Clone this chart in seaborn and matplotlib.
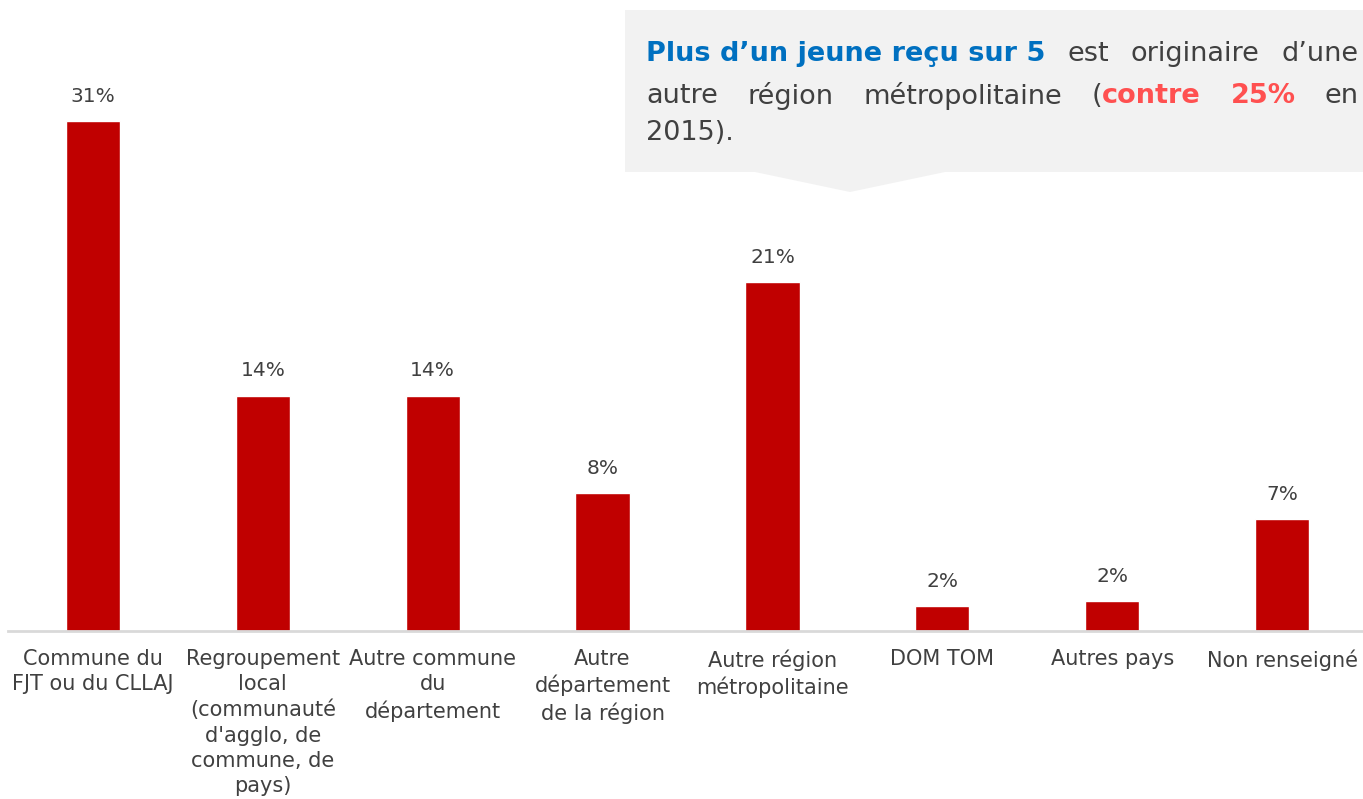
import seaborn as sns
import matplotlib.pyplot as plt
from matplotlib.patches import Polygon

categories = ["Commune du\nFJT ou du CLLAJ",
              "Regroupement\nlocal\n(communauté\nd'agglo, de\ncommune, de\npays)",
              "Autre commune\ndu\ndépartement",
              "Autre\ndépartement\nde la région",
              "Autre région\nmétropolitaine",
              "DOM TOM",
              "Autres pays",
              "Non renseigné"]
values = [31.0, 14.3, 14.3, 8.4, 21.2, 1.5, 1.8, 6.8]
value_labels = ["31%", "14%", "14%", "8%", "21%", "2%", "2%", "7%"]

W, H = 1363, 799
grey_txt = "#404040"
blue = "#0070C0"
red = "#FF5050"

sns.set_style("white")
plt.rcParams['font.family'] = ['DejaVu Sans']

fig = plt.figure(figsize=(W / 100, H / 100), dpi=100)
ax = fig.add_axes([8 / W, 168 / H, 1359 / W, 591 / H])

sns.barplot(x=categories, y=values, color="#C00000", width=0.32,
            saturation=1, ax=ax)
ax.set_ylim(0, 591 / (510 / 31))
ax.set_xlim(-0.5, len(categories) - 0.5)
ax.bar_label(ax.containers[0], labels=value_labels, padding=11,
             fontsize=14.5, color=grey_txt)

sns.despine(ax=ax, left=True)
ax.spines['bottom'].set_color("#D9D9D9")
ax.spines['bottom'].set_linewidth(2)
ax.set_yticks([])
ax.set_ylabel("")
ax.tick_params(axis='x', length=0, pad=13, labelsize=15, labelcolor=grey_txt)
for t in ax.get_xticklabels():
    t.set_linespacing(1.33)

# callout box
def px(x, y):
    return (x / W, 1 - y / H)

box = Polygon([px(625, 10), px(1370, 10), px(1370, 172), px(945, 172),
               px(850, 192), px(755, 172), px(625, 172)],
              closed=True, transform=fig.transFigure,
              facecolor="#F2F2F2", edgecolor="none", zorder=0)
fig.patches.append(box)

# callout text, justified between x0 and x1
fs = 19.5
x0, x1 = 646, 1359
line1 = [[("Plus d’un jeune reçu sur 5", blue, "bold")],
         [("est", grey_txt, "normal")],
         [("originaire", grey_txt, "normal")],
         [("d’une", grey_txt, "normal")]]
line2 = [[("autre", grey_txt, "normal")],
         [("région", grey_txt, "normal")],
         [("métropolitaine", grey_txt, "normal")],
         [("(", grey_txt, "normal"), ("contre", red, "bold")],
         [("25%", red, "bold")],
         [("en", grey_txt, "normal")]]
line3 = [[("2015).", grey_txt, "normal")]]

renderer = fig.canvas.get_renderer()


def place_line(words, y, justify):
    items = []
    for word in words:
        parts = []
        for s, c, w in word:
            t = fig.text(*px(x0, y), s, color=c, fontweight=w, fontsize=fs,
                         ha="left", va="center")
            parts.append((t, t.get_window_extent(renderer).width))
        items.append(parts)
    widths = [sum(w for _, w in parts) for parts in items]
    gap = (x1 - x0 - sum(widths)) / (len(items) - 1) if justify else 0
    x = x0
    for parts, wsum in zip(items, widths):
        xx = x
        for t, w in parts:
            t.set_position(px(xx, y))
            xx += w
        x += wsum + gap


place_line(line1, 54, True)
place_line(line2, 96, True)
place_line(line3, 133, False)

fig.savefig("out.png", dpi=100)
